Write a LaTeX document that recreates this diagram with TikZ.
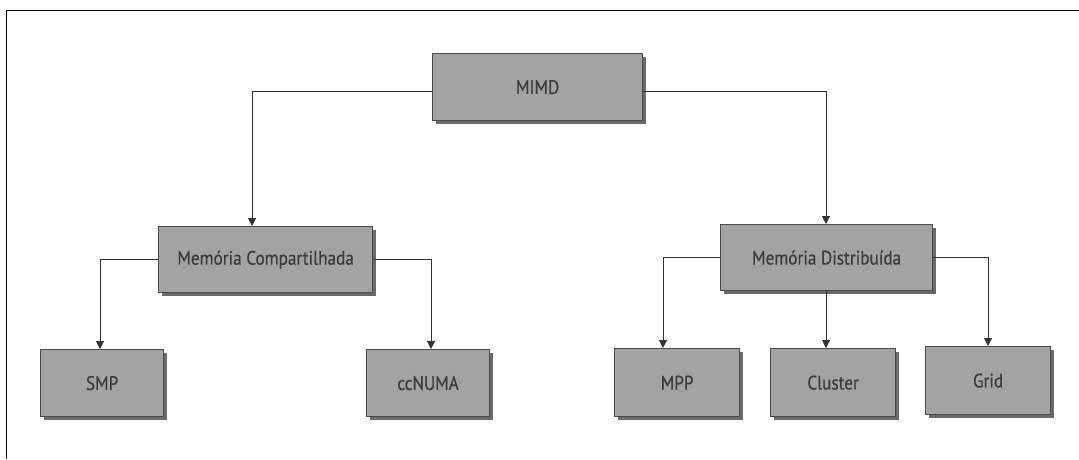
\documentclass[tikz,border=0pt]{standalone}
\usepackage{fontspec}
\setmainfont{PT Sans}[FakeStretch=0.88,FakeBold=0.6]
\usetikzlibrary{arrows.meta,shadows}
\definecolor{boxfill}{HTML}{A3A3A3}
\definecolor{boxline}{HTML}{4A4A4A}
\definecolor{boxtext}{HTML}{3C3C3C}
\definecolor{shade}{HTML}{6A6A6A}
\begin{document}
\begin{tikzpicture}[x=1pt,y=-1pt,
  box/.style={draw=boxline,line width=1.2pt,fill=boxfill,text=boxtext,
    font=\fontsize{19.5}{22}\selectfont,
    drop shadow={shadow xshift=3pt,shadow yshift=-3pt,fill=shade,opacity=1},
    inner sep=0pt,anchor=north west},
  link/.style={draw=black!80,line width=1pt,-{Triangle[length=8pt,width=8pt]}}]
\useasboundingbox (0,0) rectangle (1079,459);
% outer frame (top and left edges)
\draw[line width=1pt] (6,459) -- (6,10) -- (1079,10);
% nodes
\node[box,minimum width=210pt,minimum height=67pt] (mimd) at (432,53) {MIMD};
\node[box,minimum width=214pt,minimum height=66pt] (mc) at (158,226) {Memória Compartilhada};
\node[box,minimum width=212pt,minimum height=66pt] (md) at (720,224) {Memória Distribuída};
\node[box,minimum width=123pt,minimum height=67pt] (smp) at (40,349) {SMP};
\node[box,minimum width=123pt,minimum height=67pt] (ccn) at (366,349) {ccNUMA};
\node[box,minimum width=125pt,minimum height=68pt] (mpp) at (614,348) {MPP};
\node[box,minimum width=125pt,minimum height=68pt] (cl) at (770,348) {Cluster};
\node[box,minimum width=125pt,minimum height=68pt] (gr) at (925,346) {Grid};
% connectors
\draw[link] ([yshift=-4pt]mimd.west) -| (mc.north -| 252,0);
\draw[link] ([yshift=-4pt]mimd.east) -| (md.north -| 826,0);
\draw[link] (mc.west) -| (smp.north -| 100,0);
\draw[link] (mc.east) -| (ccn.north -| 431,0);
\draw[link] (md.west) -| (mpp.north -| 663,0);
\draw[link] (md.south -| 826,0) -- (cl.north -| 826,0);
\draw[link] (md.east) -| (gr.north -| 988,0);
\end{tikzpicture}
\end{document}
